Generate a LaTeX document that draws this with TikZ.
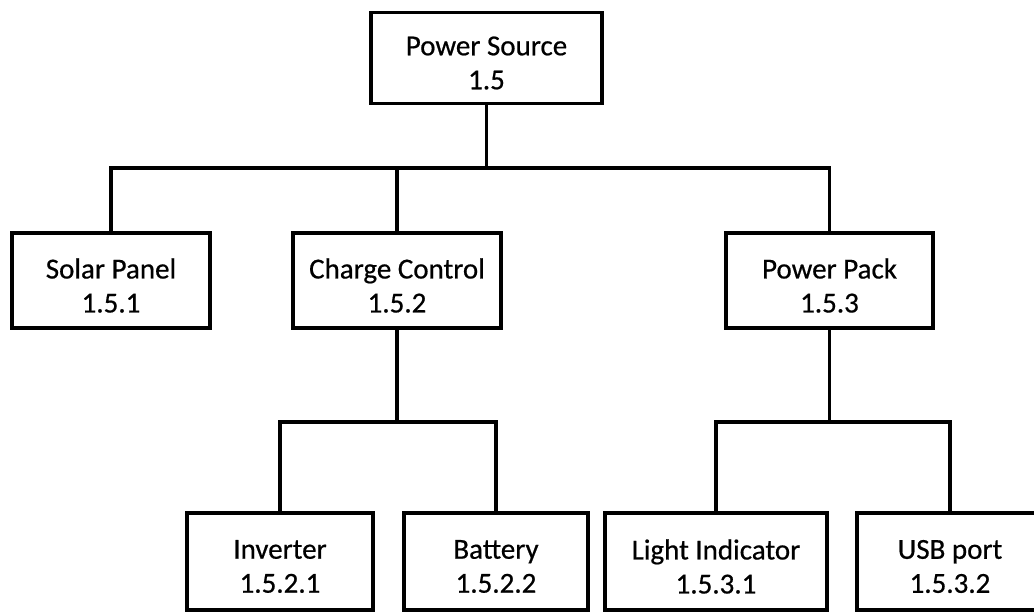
\documentclass[tikz,border=0pt]{standalone}
\usepackage{fontspec}
\setmainfont{Carlito}
\newfontfamily\boxfont{Carlito}[FakeBold=0.6]
\begin{document}
\begin{tikzpicture}[x=1pt,y=-1pt,
  box/.style={draw=black,line width=3.2pt,fill=white,inner sep=0pt,
    minimum height=95pt,
    label={[align=center,yshift=-5pt,font=\boxfont\fontsize{29}{34}\selectfont]center:#1}},
  conn/.style={draw=black,line width=3.2pt}]
\useasboundingbox (0,0) rectangle (1034,612);
\clip (0,0) rectangle (1034,612);
\fill[white] (0,0) rectangle (1034,612);
% buses
\coordinate (b1) at (0,168);
\coordinate (b2) at (0,422);
% nodes
\node[box={Power Source\\1.5},minimum width=231pt,minimum height=91pt] (top) at (486.5,58) {};
\node[box={Solar Panel\\1.5.1},minimum width=198pt] (solar) at (111,280.5) {};
\node[box={Charge Control\\1.5.2},minimum width=208pt] (charge) at (397,280.5) {};
\node[box={Power Pack\\1.5.3},minimum width=207pt] (pack) at (829.5,280.5) {};
\node[box={Inverter\\1.5.2.1},minimum width=186pt,minimum height=97pt] (inv) at (280,561.5) {};
\node[box={Battery\\1.5.2.2},minimum width=184pt,minimum height=97pt] (bat) at (496,561.5) {};
\node[box={Light Indicator\\1.5.3.1},minimum width=222pt,minimum height=97pt] (light) at (716,561.5) {};
\node[box={USB port\\1.5.3.2},minimum width=186pt,minimum height=97pt] (usb) at (950,561.5) {};
% connectors
\draw[conn] (top.south) -- (top.south|-b1) -| (solar.north);
\draw[conn] (top.south|-b1) -| (charge.north);
\draw[conn] (top.south|-b1) -| (pack.north);
\draw[conn] (charge.south) -- (charge.south|-b2) -| (inv.north);
\draw[conn] (charge.south|-b2) -| (bat.north);
\draw[conn] (pack.south) -- (pack.south|-b2) -| (light.north);
\draw[conn] (pack.south|-b2) -| (usb.north);
\end{tikzpicture}
\end{document}
